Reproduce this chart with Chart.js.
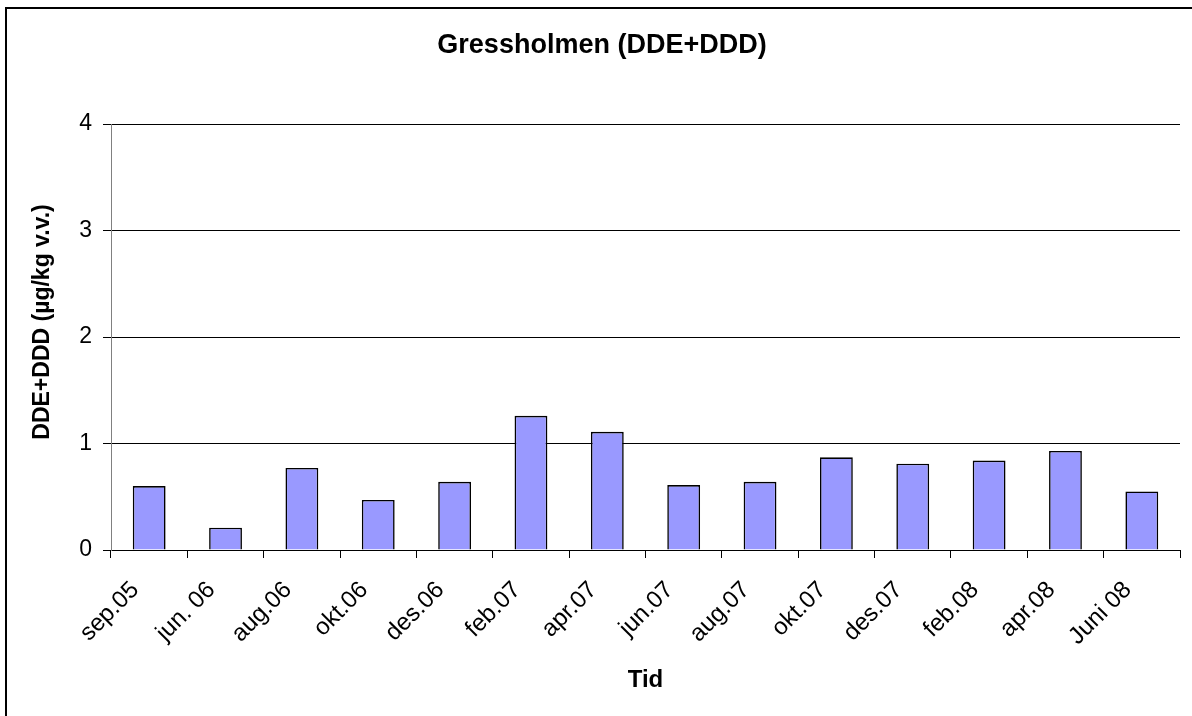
<!DOCTYPE html>
<html>
<head>
<meta charset="utf-8">
<script src="https://cdn.jsdelivr.net/npm/chart.js@4"></script>
<style>
  html, body { margin: 0; padding: 0; background: #fff; overflow: hidden; }
  #wrap { position: relative; width: 1192px; height: 716px; overflow: hidden; }
  #frame { position: absolute; left: 5px; top: 7px; width: 1300px; height: 800px; border: 2px solid #000; }
  #chart { position: absolute; left: 0; top: 0; }
</style>
</head>
<body>
<div id="wrap">
  <div id="frame"></div>
  <canvas id="chart" width="1192" height="716"></canvas>
</div>
<script>
// Sampling dates (Gressholmen)
const categories = ['sep.05', 'jun. 06', 'aug.06', 'okt.06', 'des.06', 'feb.07', 'apr.07',
                    'jun.07', 'aug.07', 'okt.07', 'des.07', 'feb.08', 'apr.08', 'Juni 08'];
// DDE+DDD, µg/kg wet weight
const ddeDdd = [0.60, 0.21, 0.77, 0.47, 0.64, 1.26, 1.11, 0.61, 0.64, 0.87, 0.81, 0.84, 0.93, 0.55];
// Value axis ticks
const yTicks = [0, 1, 2, 3, 4];

const FONT = '"Liberation Sans", Arial, Helvetica, sans-serif';
const CHART_TITLE = 'Gressholmen (DDE+DDD)';
const Y_TITLE = 'DDE+DDD (µg/kg v.v.)';

// Chart title centred on the framed page, and the vertical value-axis title
const titlesPlugin = {
  id: 'titles',
  afterDraw(chart) {
    const { ctx } = chart;
    const y = chart.scales.y;
    ctx.save();
    ctx.fillStyle = '#000';
    ctx.textAlign = 'center';
    ctx.font = 'bold 27px ' + FONT;
    ctx.textBaseline = 'alphabetic';
    ctx.fillText(CHART_TITLE, 602, 53);

    ctx.translate(43, (y.top + y.bottom) / 2 - 15);
    ctx.rotate(-Math.PI / 2);
    ctx.font = 'bold 23px ' + FONT;
    ctx.textBaseline = 'middle';
    ctx.fillText(Y_TITLE, 0, 0);
    ctx.restore();
  }
};

new Chart(document.getElementById('chart'), {
  type: 'bar',
  data: {
    labels: categories,
    datasets: [{
      data: ddeDdd,
      backgroundColor: '#9999FF',
      borderColor: '#000000',
      borderWidth: 1.6,
      barPercentage: 0.43,
      categoryPercentage: 1.0
    }]
  },
  plugins: [titlesPlugin],
  options: {
    responsive: false,
    animation: false,
    layout: { padding: { left: 0, right: 12, top: 124, bottom: 0 } },
    plugins: {
      legend: { display: false },
      tooltip: { enabled: false },
      title: { display: false }
    },
    scales: {
      x: {
        offset: true,
        grid: {
          offset: true,
          drawOnChartArea: false,
          drawTicks: true,
          tickLength: 8,
          color: '#000'
        },
        border: { display: true, color: '#000', width: 1 },
        ticks: {
          autoSkip: false,
          maxRotation: 45,
          minRotation: 45,
          color: '#000',
          padding: 18,
          labelOffset: -14,
          font: { family: FONT, size: 24 }
        },
        title: {
          display: true,
          text: 'Tid',
          color: '#000',
          font: { family: FONT, size: 24, weight: 'bold', lineHeight: 1.2 },
          padding: { top: 0, bottom: 21.6 }
        },
        afterFit(scale) { scale.height = 166; }
      },
      y: {
        min: 0,
        max: 4,
        afterBuildTicks(scale) { scale.ticks = yTicks.map(v => ({ value: v })); },
        grid: {
          color: '#000',
          drawTicks: true,
          tickLength: 8
        },
        border: { display: true, color: '#808080', width: 1 },
        ticks: {
          color: '#000',
          padding: 11,
          font: { family: FONT, size: 23 }
        },
        title: { display: false },
        afterFit(scale) { scale.width = 111; }
      }
    }
  }
});
</script>
</body>
</html>
